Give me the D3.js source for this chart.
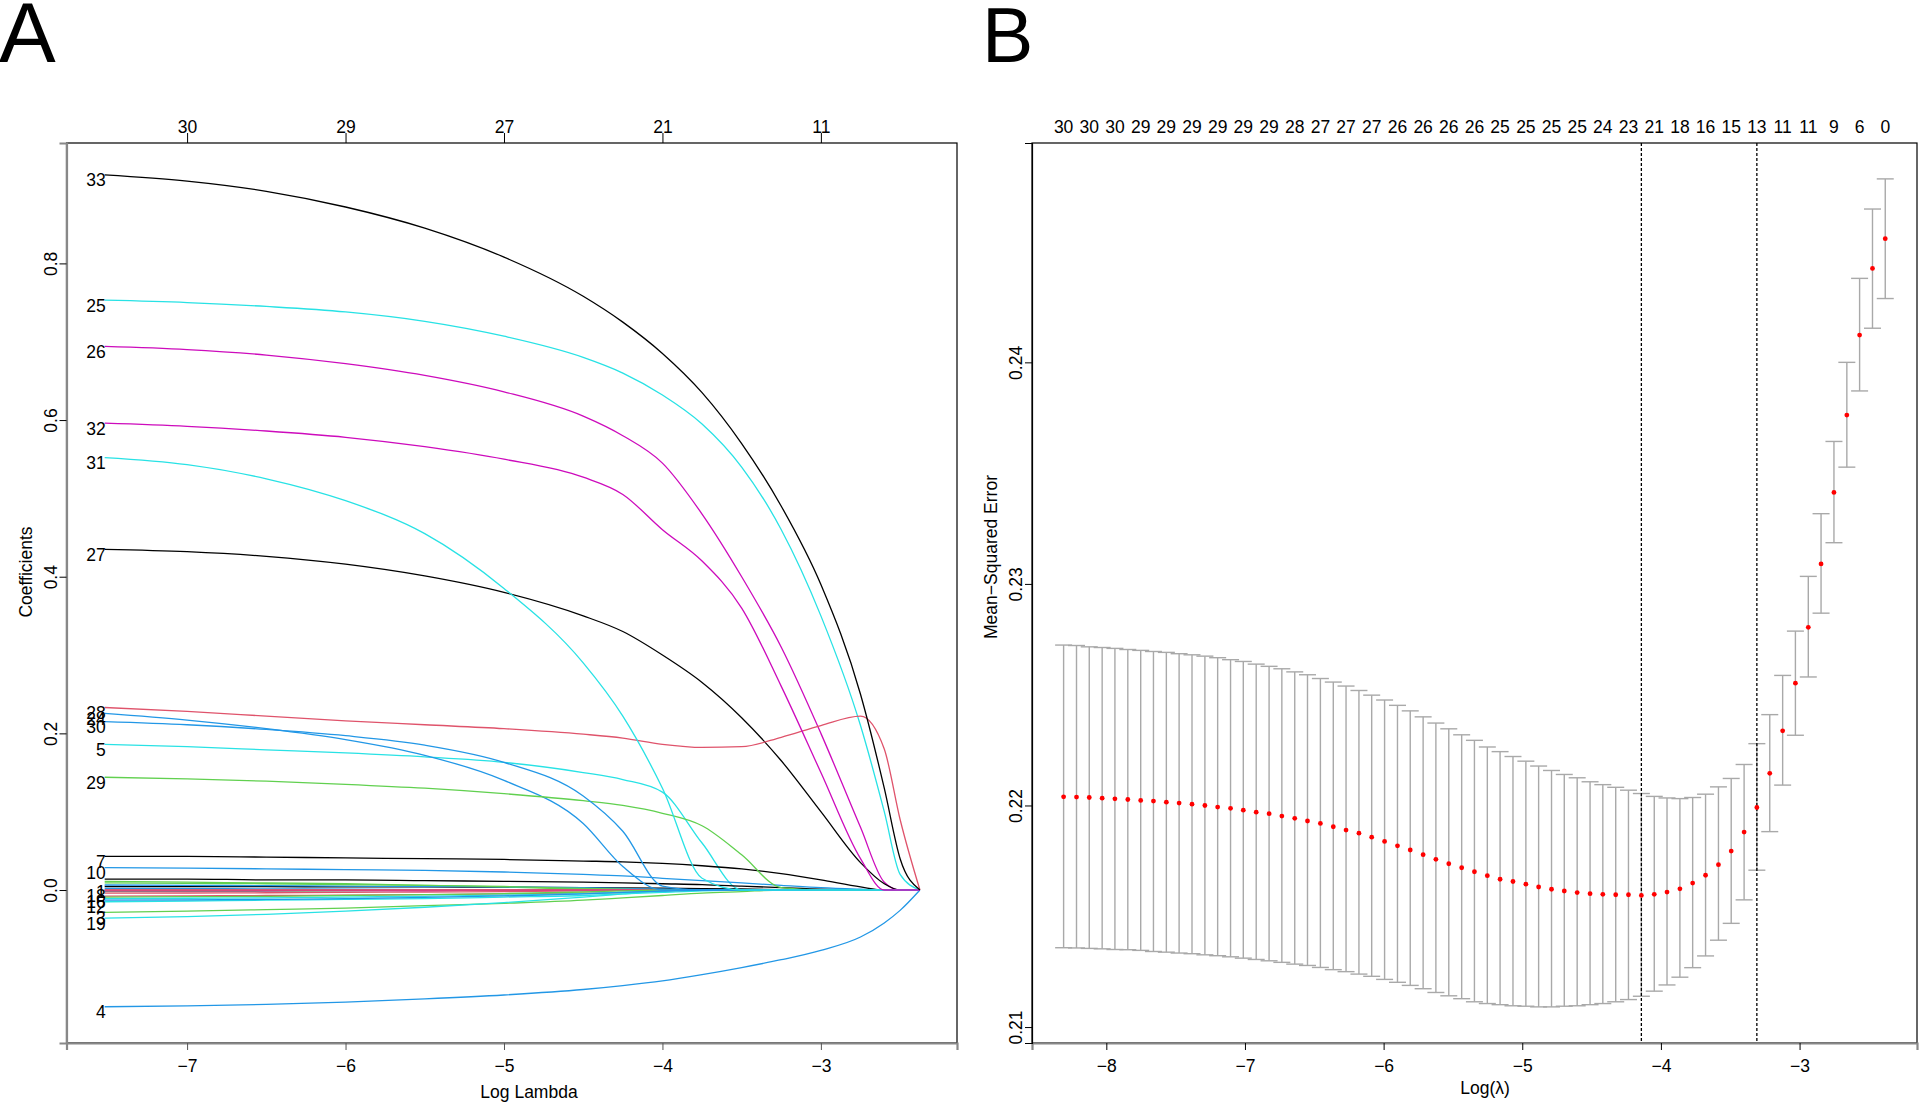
<!DOCTYPE html>
<html><head><meta charset="utf-8">
<script src="https://cdn.jsdelivr.net/npm/d3@7"></script>
<style>
body{margin:0;background:#fff}
svg{display:block}
text{font-family:"Liberation Sans",Arial,Helvetica,sans-serif;fill:#000}
</style>
</head><body>
<svg id="chart" width="1919" height="1103"></svg>
<script>
// ---------------- Panel A : coefficient paths ----------------
const coefKnots = [-7.52,-7,-6.5,-6,-5.5,-5,-4.5,-4.25,-4,-3.75,-3.5,-3.25,-3,-2.75,-2.6,-2.5,-2.375];
const coefTickAt = [-7,-6,-5,-4,-3];
const coefTopLabels = ["30","29","27","21","11"];
const coefYTicks = [0.0,0.2,0.4,0.6,0.8];

const coefNames = ["1","2","3","4","5","6","7","8","9","10","11","12","13","14","15","16","17","18","19","20","21","22","23","24","25","26","27","28","29","30","31","32","33"];
// labels that can be told apart at the left end of the paths
const coefShownLabels = ["1","3","4","5","7","10","12","16","18","19","24","25","26","27","28","29","30","31","32","33"];
const coefColors = ["#000000","#61D04F","#61D04F","#2297E6","#28E2E5","#000000","#000000","#2297E6","#61D04F","#2297E6","#28E2E5","#28E2E5","#2297E6","#61D04F","#DF536B","#DF536B","#DF536B","#CD0BBC","#28E2E5","#DF536B","#61D04F","#28E2E5","#2297E6","#2297E6","#28E2E5","#CD0BBC","#000000","#DF536B","#61D04F","#2297E6","#28E2E5","#CD0BBC","#000000"];
const coefValues = [
 [0.0045,0.0044,0.0043,0.0041,0.0039,0.0036,0.0031,0.0028,0.0024,0.0019,0.0013,0.0006,0,0,0,0,0],
 [0.011,0.010,0.009,0.008,0.006,0.004,0.001,0,0,0,0,0,0,0,0,0,0],
 [-0.0285,-0.027,-0.025,-0.023,-0.020,-0.017,-0.013,-0.010,-0.007,-0.004,-0.002,0,0,0,0,0,0],
 [-0.149,-0.148,-0.146,-0.143,-0.139,-0.134,-0.127,-0.122,-0.116,-0.108,-0.099,-0.089,-0.077,-0.060,-0.042,-0.026,0],
 [0.186,0.183,0.179,0.175,0.170,0.163,0.150,0.141,0.125,0.060,0,0,0,0,0,0,0],
 [0.014,0.014,0.013,0.013,0.012,0.011,0.010,0.009,0.008,0.007,0.005,0.003,0.001,0,0,0,0],
 [0.043,0.043,0.042,0.041,0.040,0.039,0.037,0.036,0.034,0.031,0.027,0.021,0.013,0.004,0,0,0],
 [0.0064,0.006,0.0055,0.005,0.0045,0.004,0.003,0.002,0.001,0.0005,0,0,0,0,0,0,0],
 [0.009,0.0085,0.008,0.007,0.006,0.0045,0.002,0.001,0,0,0,0,0,0,0,0,0],
 [0.0285,0.028,0.027,0.026,0.025,0.023,0.020,0.018,0.015,0.012,0.009,0.006,0.003,0.001,0,0,0],
 [0,0,0,0,0,0,0,0,0,0,0,0,0,0,0,0,0],
 [-0.015,-0.014,-0.013,-0.012,-0.011,-0.009,-0.007,-0.005,-0.003,-0.001,0,0,0,0,0,0,0],
 [0.002,0.0018,0.0015,0.001,0.0005,0,0,0,0,0,0,0,0,0,0,0,0],
 [-0.002,-0.0018,-0.0015,-0.001,-0.0006,-0.0003,0,0,0,0,0,0,0,0,0,0,0],
 [0,0,0,0,0,0,0,0,0,0,0,0,0,0,0,0,0],
 [-0.0077,-0.0075,-0.007,-0.0065,-0.006,-0.005,-0.004,-0.003,-0.001,0,0,0,0,0,0,0,0],
 [-0.004,-0.0038,-0.0035,-0.003,-0.0025,-0.002,-0.001,-0.0005,0,0,0,0,0,0,0,0,0],
 [-0.001,-0.001,-0.0009,-0.0008,-0.0006,-0.0004,-0.0002,0,0,0,0,0,0,0,0,0,0],
 [-0.036,-0.034,-0.031,-0.027,-0.022,-0.016,-0.009,-0.005,-0.001,0,0,0,0,0,0,0,0],
 [0,0,0,0,0,0,0,0,0,0,0,0,0,0,0,0,0],
 [-0.009,-0.0085,-0.008,-0.007,-0.006,-0.0045,-0.0025,-0.001,0,0,0,0,0,0,0,0,0],
 [-0.011,-0.0105,-0.010,-0.009,-0.008,-0.0065,-0.0045,-0.003,-0.0015,-0.0005,0,0,0,0,0,0,0],
 [-0.013,-0.0125,-0.012,-0.011,-0.0095,-0.0075,-0.005,-0.003,-0.0015,0,0,0,0,0,0,0,0],
 [0.2255,0.217,0.206,0.192,0.172,0.140,0.085,0.030,0,0,0,0,0,0,0,0,0],
 [0.753,0.750,0.745,0.738,0.726,0.707,0.680,0.660,0.632,0.595,0.540,0.460,0.350,0.210,0.100,0.020,0],
 [0.694,0.690,0.683,0.672,0.657,0.636,0.605,0.580,0.545,0.480,0.400,0.310,0.200,0.080,0.010,0,0],
 [0.435,0.432,0.426,0.416,0.401,0.380,0.350,0.330,0.300,0.265,0.220,0.165,0.100,0.035,0.008,0,0],
 [0.233,0.228,0.222,0.216,0.211,0.206,0.199,0.194,0.186,0.182,0.183,0.195,0.210,0.222,0.180,0.090,0],
 [0.144,0.142,0.139,0.135,0.130,0.123,0.114,0.108,0.098,0.082,0.045,0.003,0,0,0,0,0],
 [0.215,0.211,0.205,0.197,0.185,0.163,0.120,0.075,0.005,0,0,0,0,0,0,0,0],
 [0.552,0.543,0.525,0.497,0.455,0.385,0.290,0.222,0.130,0.015,0,0,0,0,0,0,0],
 [0.596,0.592,0.586,0.578,0.566,0.550,0.527,0.505,0.460,0.420,0.360,0.260,0.150,0.040,0,0,0],
 [0.913,0.905,0.892,0.872,0.845,0.808,0.758,0.725,0.685,0.635,0.570,0.490,0.390,0.250,0.130,0.040,0]
];

// ---------------- Panel B : cross-validation curve ----------------
const cvLogLambda = [-8.308,-8.215,-8.123,-8.030,-7.938,-7.845,-7.752,-7.660,-7.567,-7.475,-7.382,-7.289,-7.197,-7.104,-7.012,-6.919,-6.826,-6.734,-6.641,-6.549,-6.456,-6.363,-6.271,-6.178,-6.086,-5.993,-5.900,-5.808,-5.715,-5.623,-5.530,-5.437,-5.345,-5.252,-5.160,-5.067,-4.974,-4.882,-4.789,-4.697,-4.604,-4.511,-4.419,-4.326,-4.234,-4.141,-4.048,-3.956,-3.863,-3.771,-3.678,-3.585,-3.493,-3.400,-3.308,-3.215,-3.122,-3.030,-2.937,-2.845,-2.752,-2.659,-2.567,-2.474,-2.382];
const cvMean = [0.22039,0.22038,0.22036,0.22033,0.22030,0.22027,0.22023,0.22020,0.22015,0.22011,0.22006,0.22000,0.21993,0.21987,0.21979,0.21970,0.21963,0.21952,0.21942,0.21930,0.21919,0.21904,0.21889,0.21875,0.21857,0.21838,0.21818,0.21799,0.21778,0.21757,0.21737,0.21719,0.21701,0.21683,0.21667,0.21657,0.21645,0.21632,0.21622,0.21614,0.21607,0.21602,0.21599,0.21597,0.21597,0.21594,0.21599,0.21609,0.21624,0.21650,0.21685,0.21733,0.21794,0.21880,0.21991,0.22145,0.22337,0.22552,0.22804,0.23090,0.23413,0.23762,0.24123,0.24424,0.24558];
const cvUpper = [0.22724,0.22722,0.22716,0.22713,0.22709,0.22704,0.22700,0.22695,0.22691,0.22685,0.22680,0.22674,0.22667,0.22658,0.22650,0.22638,0.22628,0.22617,0.22603,0.22590,0.22573,0.22557,0.22539,0.22519,0.22498,0.22476,0.22452,0.22427,0.22400,0.22372,0.22346,0.22319,0.22294,0.22264,0.22243,0.22221,0.22200,0.22178,0.22158,0.22140,0.22125,0.22107,0.22094,0.22082,0.22069,0.22054,0.22041,0.22034,0.22031,0.22036,0.22051,0.22084,0.22122,0.22185,0.22279,0.22410,0.22587,0.22787,0.23034,0.23317,0.23643,0.24000,0.24379,0.24692,0.24828];
const cvLower = [0.21358,0.21357,0.21355,0.21353,0.21350,0.21349,0.21346,0.21341,0.21338,0.21334,0.21331,0.21326,0.21322,0.21317,0.21311,0.21305,0.21299,0.21292,0.21284,0.21278,0.21269,0.21259,0.21250,0.21239,0.21229,0.21215,0.21202,0.21188,0.21173,0.21156,0.21141,0.21128,0.21114,0.21106,0.21101,0.21096,0.21094,0.21091,0.21091,0.21094,0.21096,0.21101,0.21106,0.21114,0.21124,0.21139,0.21162,0.21190,0.21225,0.21268,0.21321,0.21392,0.21468,0.21574,0.21708,0.21882,0.22092,0.22317,0.22580,0.22868,0.23186,0.23527,0.23871,0.24154,0.24288];
const cvTopLabels = ["30","30","30","29","29","29","29","29","29","28","27","27","27","26","26","26","26","25","25","25","25","24","23","21","18","16","15","13","11","11","9","6","0"];
const cvXTicks = [-8,-7,-6,-5,-4,-3];
const cvYTicks = [0.21,0.22,0.23,0.24];
const lambdaMin = -4.141, lambda1se = -3.308;

// ---------------- drawing ----------------
const svg = d3.select("#chart");
svg.append("rect").attr("width",1919).attr("height",1103).attr("fill","#fff");
const FS = 17.5;
const fmtMinus = d => (d<0 ? "\u2212"+Math.abs(d) : String(d));

// Panel letters
svg.append("text").attr("x",-1).attr("y",62).attr("font-size",85).text("A");
svg.append("text").attr("x",982).attr("y",62).attr("font-size",77).text("B");

// ----- Panel A -----
const A = {l:66.5, r:957, t:143, b:1043};
const xA = d3.scaleLinear().domain([-7.761,-2.141]).range([A.l,A.r]);
const yA = d3.scaleLinear().domain([-0.1953,0.9537]).range([A.b,A.t]);

const gA = svg.append("g");
const lineA = d3.line().x((d,i)=>xA(coefKnots[i])).y(d=>yA(d)).curve(d3.curveMonotoneX);
const order = d3.range(coefNames.length);
gA.selectAll("path.coef").data(order).join("path")
  .attr("class","coef")
  .attr("d",i=>lineA(coefValues[i]))
  .attr("fill","none").attr("stroke",i=>coefColors[i]).attr("stroke-width",1.3);

const labelled = order.filter(i=>coefShownLabels.includes(coefNames[i]));
gA.selectAll("text.lab").data(labelled).join("text")
  .attr("class","lab")
  .attr("x",xA(coefKnots[0])+1).attr("y",i=>yA(coefValues[i][0])+11.5)
  .attr("text-anchor","end").attr("font-size",FS).text(i=>coefNames[i]);

// frame
gA.append("rect").attr("x",A.l).attr("y",A.t).attr("width",A.r-A.l).attr("height",A.b-A.t)
  .attr("fill","none").attr("stroke","#000").attr("stroke-width",1.2);

// bottom axis
const axA_b = gA.append("g").attr("transform",`translate(0,${A.b})`)
  .call(d3.axisBottom(xA).tickValues(coefTickAt).tickSize(7).tickFormat(fmtMinus));
axA_b.select(".domain").attr("stroke","#888").attr("stroke-width",2.2);
axA_b.selectAll("text").attr("font-size",FS).attr("y",0).attr("dy",0).attr("transform","translate(0,29)");
axA_b.selectAll("line").attr("stroke","#555");
// top axis (df)
const axA_t = gA.append("g").attr("transform",`translate(0,${A.t})`)
  .call(d3.axisTop(xA).tickValues(coefTickAt).tickSize(10).tickFormat((d,i)=>coefTopLabels[i]));
axA_t.select(".domain").remove();
axA_t.selectAll("text").attr("font-size",FS).attr("y",-10).attr("dy",0);
// left axis
const axA_l = gA.append("g").attr("transform",`translate(${A.l},0)`)
  .call(d3.axisLeft(yA).tickValues(coefYTicks).tickSize(7).tickFormat(d3.format(".1f")));
axA_l.select(".domain").attr("stroke","#888").attr("stroke-width",2.2);
axA_l.selectAll("text").attr("font-size",FS).attr("x",0).attr("dy",0)
  .attr("text-anchor","middle").attr("transform","translate(-10,0) rotate(-90)");
svg.selectAll(".tick text").attr("font-family","Liberation Sans, Arial, sans-serif");

gA.append("text").attr("x",529).attr("y",1098).attr("text-anchor","middle").attr("font-size",FS).text("Log Lambda");
gA.append("text").attr("transform","translate(32,572) rotate(-90)").attr("text-anchor","middle").attr("font-size",FS).text("Coefficients");

// ----- Panel B -----
const B = {l:1032, r:1917, t:143, b:1043};
const xB = d3.scaleLinear().domain([-8.536,-2.153]).range([B.l,B.r]);
const yB = d3.scaleLinear().domain([0.20928,0.2499]).range([B.b,B.t]);
const gB = svg.append("g");
const idx = d3.range(cvLogLambda.length);
const capW = 8.5;
const eb = gB.append("g").attr("stroke","#a9a9a9").attr("stroke-width",1.4);
eb.selectAll("line.v").data(idx).join("line").attr("class","v")
  .attr("x1",i=>xB(cvLogLambda[i])).attr("x2",i=>xB(cvLogLambda[i]))
  .attr("y1",i=>yB(cvUpper[i])).attr("y2",i=>yB(cvLower[i]));
eb.selectAll("line.u").data(idx).join("line").attr("class","u")
  .attr("x1",i=>xB(cvLogLambda[i])-capW).attr("x2",i=>xB(cvLogLambda[i])+capW)
  .attr("y1",i=>yB(cvUpper[i])).attr("y2",i=>yB(cvUpper[i]));
eb.selectAll("line.lo").data(idx).join("line").attr("class","lo")
  .attr("x1",i=>xB(cvLogLambda[i])-capW).attr("x2",i=>xB(cvLogLambda[i])+capW)
  .attr("y1",i=>yB(cvLower[i])).attr("y2",i=>yB(cvLower[i]));

gB.selectAll("line.vl").data([lambdaMin,lambda1se]).join("line").attr("class","vl")
  .attr("x1",d=>xB(d)).attr("x2",d=>xB(d)).attr("y1",B.t).attr("y2",B.b)
  .attr("stroke","#000").attr("stroke-width",1.3).attr("stroke-dasharray","3,2");

gB.selectAll("circle").data(idx).join("circle")
  .attr("cx",i=>xB(cvLogLambda[i])).attr("cy",i=>yB(cvMean[i])).attr("r",2.4).attr("fill","#ff0000");

gB.append("rect").attr("x",B.l).attr("y",B.t).attr("width",B.r-B.l).attr("height",B.b-B.t)
  .attr("fill","none").attr("stroke","#000").attr("stroke-width",1.2);

const axB_b = gB.append("g").attr("transform",`translate(0,${B.b})`)
  .call(d3.axisBottom(xB).tickValues(cvXTicks).tickSize(7).tickFormat(fmtMinus));
axB_b.select(".domain").attr("stroke","#888").attr("stroke-width",2.2);
axB_b.selectAll("text").attr("font-size",FS).attr("y",0).attr("dy",0).attr("transform","translate(0,29)");
const topIdx = idx.filter(i=>i%2===0);
gB.selectAll("text.top").data(topIdx).join("text").attr("class","top")
  .attr("x",i=>xB(cvLogLambda[i])).attr("y",133).attr("text-anchor","middle").attr("font-size",FS)
  .text((i,k)=>cvTopLabels[k]);
const axB_l = gB.append("g").attr("transform",`translate(${B.l},0)`)
  .call(d3.axisLeft(yB).tickValues(cvYTicks).tickSize(7).tickFormat(d3.format(".2f")));
axB_l.select(".domain").attr("stroke","#000").attr("stroke-width",1.2);
axB_l.selectAll("text").attr("font-size",FS).attr("x",0).attr("dy",0)
  .attr("text-anchor","middle").attr("transform","translate(-10,0) rotate(-90)");

gB.append("text").attr("x",1485).attr("y",1094).attr("text-anchor","middle").attr("font-size",FS).text("Log(\u03BB)");
gB.append("text").attr("transform","translate(997,557) rotate(-90)").attr("text-anchor","middle").attr("font-size",FS).text("Mean\u2212Squared Error");
</script>
</body></html>
